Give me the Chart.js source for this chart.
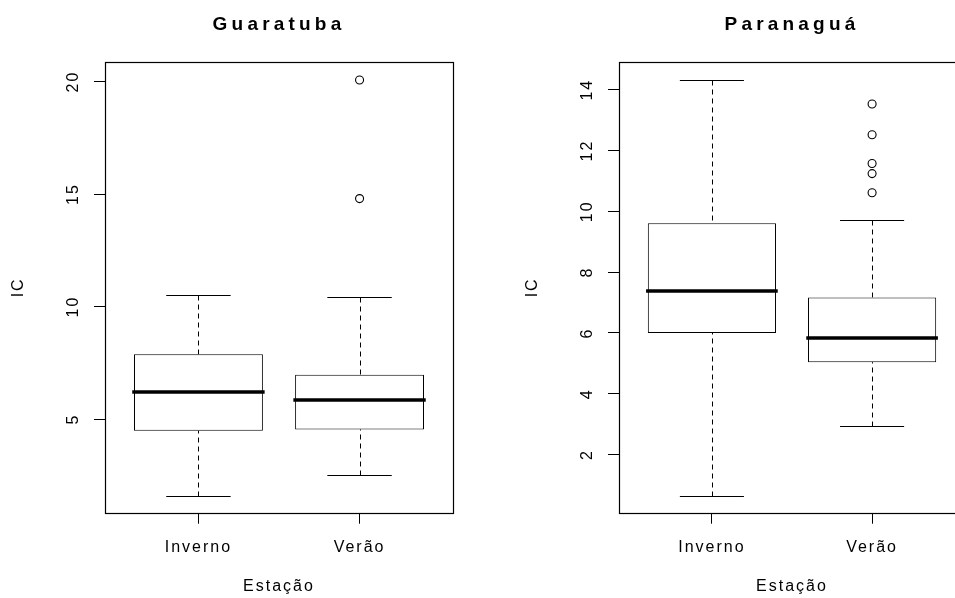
<!DOCTYPE html>
<html>
<head>
<meta charset="utf-8">
<script src="https://cdn.jsdelivr.net/npm/chart.js@4.4.1/dist/chart.umd.min.js"></script>
<style>
html, body { margin:0; padding:0; background:#fff; width:955px; height:598px; overflow:hidden; position:relative; }
canvas { position:absolute; top:0; }
#c1 { left:0; }
#c2 { left:514px; }
</style>
</head>
<body>
<canvas id="c1" width="558" height="598"></canvas>
<canvas id="c2" width="556" height="598"></canvas>
<script>
// ---- data ----
const categories = ['Inverno', 'Verão'];

// Guaratuba
const guaWhiskerLow  = [1.59, 2.51];
const guaQ1          = [4.48, 4.54];
const guaMedian      = [6.21, 5.83];
const guaQ3          = [7.88, 6.97];
const guaWhiskerHigh = [10.52, 10.43];
const guaOutliers    = [[], [20.07, 14.80]];
const guaTicks       = [5, 10, 15, 20];
const guaYRange      = [0.84, 20.87];

// Paranaguá
const parWhiskerLow  = [0.65, 2.93];
const parQ1          = [6.00, 5.04];
const parMedian      = [7.37, 5.85];
const parQ3          = [9.61, 7.17];
const parWhiskerHigh = [14.32, 9.72];
const parOutliers    = [[], [13.53, 12.52, 11.57, 11.24, 10.61]];
const parTicks       = [2, 4, 6, 8, 10, 12, 14];
const parYRange      = [0.09, 14.91];

const xRange = [0.42, 2.58];
const FONT = "'Liberation Sans', Arial, Helvetica, sans-serif";

function makeBoxplot(id, titleText, st, yRange, yTicks) {
  const boxData = categories.map((c, i) => ({ x: i + 1, y: [st.q1[i], st.q3[i]] }));
  const outData = [];
  st.out.forEach((arr, i) => arr.forEach(v => outData.push({ x: i + 1, y: v })));

  const plugin = {
    id: 'boxplotExtras',
    beforeUpdate(chart) { chart.ctx.letterSpacing = '2px'; },
    beforeLayout(chart) { chart.ctx.letterSpacing = '2px'; },
    beforeDraw(chart) { chart.ctx.letterSpacing = '2px'; },
    afterDatasetsDraw(chart) {
      const ctx = chart.ctx;
      const xs = chart.scales.x, ys = chart.scales.y;
      ctx.save();
      ctx.strokeStyle = '#000';
      categories.forEach((c, i) => {
        const xc = Math.round(xs.getPixelForValue(i + 1)) + 0.5;
        const yq1 = ys.getPixelForValue(st.q1[i]);
        const yq3 = ys.getPixelForValue(st.q3[i]);
        const ylo = Math.round(ys.getPixelForValue(st.lo[i])) + 0.5;
        const yhi = Math.round(ys.getPixelForValue(st.hi[i])) + 0.5;
        // dashed whiskers
        ctx.lineWidth = 1;
        ctx.setLineDash([5, 4]);
        ctx.beginPath();
        ctx.moveTo(xc, ylo); ctx.lineTo(xc, yq1);
        ctx.moveTo(xc, yhi); ctx.lineTo(xc, yq3);
        ctx.stroke();
        ctx.setLineDash([]);
        // caps
        const cl = xs.getPixelForValue(i + 1 - 0.2);
        const cr = xs.getPixelForValue(i + 1 + 0.2);
        ctx.beginPath();
        ctx.moveTo(cl, ylo); ctx.lineTo(cr, ylo);
        ctx.moveTo(cl, yhi); ctx.lineTo(cr, yhi);
        ctx.stroke();
        // median
        const ml = xs.getPixelForValue(i + 1 - 0.4);
        const mr = xs.getPixelForValue(i + 1 + 0.4);
        const ym = Math.round(ys.getPixelForValue(st.med[i]));
        ctx.lineWidth = 3.5;
        ctx.lineCap = 'square';
        ctx.beginPath();
        ctx.moveTo(ml, ym); ctx.lineTo(mr, ym);
        ctx.stroke();
        ctx.lineCap = 'butt';
      });
      // frame
      const a = chart.chartArea;
      ctx.lineWidth = 1.2;
      const l = Math.round(a.left) + 0.5, t = Math.round(a.top) + 0.5;
      const r = Math.round(a.right) + 0.5, b = Math.round(a.bottom) + 0.5;
      ctx.strokeRect(l, t, r - l, b - t);
      ctx.restore();
    },
    afterDraw(chart) {
      const ctx = chart.ctx;
      const a = chart.chartArea;
      ctx.save();
      ctx.letterSpacing = '4.2px';
      ctx.font = 'bold 19px ' + FONT;
      ctx.fillStyle = '#000';
      ctx.textAlign = 'center';
      ctx.textBaseline = 'alphabetic';
      ctx.fillText(titleText, (a.left + a.right) / 2, 29.5);
      ctx.restore();
    }
  };

  const tickFont = { family: FONT, size: 16 };

  return new Chart(document.getElementById(id), {
    type: 'bar',
    data: {
      datasets: [
        {
          type: 'bar', data: boxData,
          backgroundColor: '#fff', borderColor: '#000', borderWidth: 1,
          borderSkipped: false, barPercentage: 0.8, categoryPercentage: 1, order: 2
        },
        {
          type: 'scatter', data: outData, showLine: false,
          pointStyle: 'circle', pointRadius: 4, pointBorderWidth: 1.1,
          pointBorderColor: '#000', pointBackgroundColor: 'rgba(0,0,0,0)', order: 1
        }
      ]
    },
    options: {
      responsive: false, animation: false, devicePixelRatio: 1,
      layout: { padding: { top: 62, right: 105, bottom: 0, left: 0 } },
      plugins: { legend: { display: false }, tooltip: { enabled: false }, title: { display: false } },
      scales: {
        x: {
          type: 'linear', min: xRange[0], max: xRange[1], offset: false,
          afterBuildTicks: sc => { sc.ticks = categories.map((c, i) => ({ value: i + 1 })); },
          afterFit: sc => { sc.height = 85.3; },
          grid: { display: true, drawOnChartArea: false, drawTicks: true, tickLength: 11,
                  color: '#000', tickColor: '#000', offset: false, lineWidth: 1 },
          border: { display: false },
          ticks: { color: '#000', font: tickFont, padding: 14, minRotation: 0, maxRotation: 0,
                   autoSkip: false, callback: v => categories[Math.round(v) - 1] || '' },
          title: { display: true, text: 'Estação', color: '#000', font: tickFont,
                   padding: { top: 0, bottom: 1.4 } }
        },
        y: {
          type: 'linear', min: yRange[0], max: yRange[1],
          afterBuildTicks: sc => { sc.ticks = yTicks.map(v => ({ value: v })); },
          afterFit: sc => { sc.width = 105; },
          grid: { display: true, drawOnChartArea: false, drawTicks: true, tickLength: 11,
                  color: '#000', tickColor: '#000', lineWidth: 1 },
          border: { display: false },
          ticks: { color: '#000', font: tickFont, padding: 10, minRotation: 90, maxRotation: 90,
                   crossAlign: 'center', autoSkip: false, callback: v => String(v) },
          title: { display: true, text: 'IC', color: '#000', font: tickFont,
                   padding: { top: 9, bottom: 0 } }
        }
      }
    },
    plugins: [plugin]
  });
}

makeBoxplot('c1', 'Guaratuba',
  { lo: guaWhiskerLow, q1: guaQ1, med: guaMedian, q3: guaQ3, hi: guaWhiskerHigh, out: guaOutliers },
  guaYRange, guaTicks);
makeBoxplot('c2', 'Paranaguá',
  { lo: parWhiskerLow, q1: parQ1, med: parMedian, q3: parQ3, hi: parWhiskerHigh, out: parOutliers },
  parYRange, parTicks);
</script>
</body>
</html>
